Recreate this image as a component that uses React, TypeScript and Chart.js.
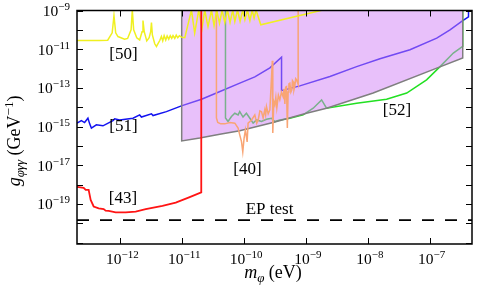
import React, { useEffect, useRef } from 'react';
import { Chart, registerables } from 'chart.js';

Chart.register(...registerables);

const X_MIN = 1.99e-13;
const X_MAX = 4.83e-7;
const Y_MIN = 8.5e-22;
const Y_MAX = 1e-9;

const xTickExps = [-12, -11, -10, -9, -8, -7];
const yTickExps = [-21, -20, -19, -18, -17, -16, -15, -14, -13, -12, -11, -10, -9];
const yLabelExps = [-19, -17, -15, -13, -11, -9];

// [43]
const redX = [1.99e-13, 2.55e-13, 2.75e-13, 3.07e-13, 3.31e-13, 3.7e-13, 4.46e-13, 5.37e-13, 5.78e-13, 6.47e-13, 8.4e-13, 1.22e-12, 1.77e-12, 2.57e-12, 4.79e-12, 7.85e-12, 1.29e-11, 2.03e-11, 2.03e-11];
const redY = [7.6e-19, 6.8e-19, 5.3e-19, 5.3e-19, 1.6e-19, 7.4e-20, 5.9e-20, 5.4e-20, 4.5e-20, 4.4e-20, 3.7e-20, 3.7e-20, 4.0e-20, 5.4e-20, 7.9e-20, 1.17e-19, 2.2e-19, 4.0e-19, 2e-9];

// [51]
const blueX = [1.99e-13, 2.34e-13, 2.64e-13, 2.99e-13, 3.19e-13, 3.4e-13, 4.09e-13, 5.23e-13, 7.59e-13, 8.09e-13, 9.75e-13, 1.6e-12, 2.05e-12, 2.19e-12, 3.18e-12, 3.37e-12, 5.55e-12, 9.7e-12, 2.05e-11, 3.57e-11, 8.52e-11, 1.49e-10, 2.61e-10, 4.03e-10, 4.03e-10, 7.96e-10, 2.44e-9, 6.59e-9, 1.57e-8, 4.8e-8, 1.3e-7, 2.13e-7, 3.42e-7, 4.24e-7, 4.24e-7];
const blueY = [1.5e-15, 2.04e-15, 1.61e-15, 2.7e-15, 1.38e-15, 8.3e-16, 1.23e-15, 1.09e-15, 2.04e-15, 2.5e-15, 2.2e-15, 2.7e-15, 4.0e-15, 3.1e-15, 4.6e-15, 3.7e-15, 5.9e-15, 1.17e-14, 2.6e-14, 5.4e-14, 1.75e-13, 3.7e-13, 1.09e-12, 3.9e-12, 7.2e-14, 1.27e-13, 3.9e-13, 1.26e-12, 3.2e-12, 9.3e-12, 3.7e-11, 1.0e-10, 3.0e-10, 4.7e-10, 2e-9];

// [52]
const greenX = [5.0e-11, 5.0e-11, 5.5e-11, 6.25e-11, 7.08e-11, 8.0e-11, 8.5e-11, 9.6e-11, 1.09e-10, 1.24e-10, 1.4e-10, 1.59e-10, 1.91e-10, 2.3e-10, 2.77e-10, 3.14e-10, 3.78e-10, 5.49e-10, 9.0e-10, 1.31e-9, 1.79e-9, 2.15e-9, 6.59e-9, 2.01e-8, 4.25e-8, 8.9e-8, 1.47e-7, 2.41e-7, 3.42e-7, 3.42e-7];
const greenY = [2e-9, 2.8e-15, 1.82e-15, 3.3e-15, 4.9e-15, 4.0e-15, 5.9e-15, 3.1e-15, 4.9e-15, 2.7e-15, 1.5e-15, 2.2e-15, 1.82e-15, 2.4e-15, 2.7e-15, 1.82e-15, 2.2e-15, 2.7e-15, 4.0e-15, 8.9e-15, 2.4e-14, 8.9e-15, 1.62e-14, 2.6e-14, 5.4e-14, 2.6e-13, 1.26e-12, 6.3e-12, 1.38e-11, 2e-9];

// [40]
const orangeX = [3.57e-11, 3.57e-11, 3.75e-11, 4.2e-11, 4.87e-11, 5.87e-11, 7.08e-11, 8.0e-11, 8.5e-11, 9.08e-11, 9.52e-11, 1.0e-10, 1.05e-10, 1.12e-10, 1.16e-10, 1.32e-10, 1.49e-10, 1.6e-10, 1.69e-10, 1.8e-10, 1.91e-10, 2.03e-10, 2.16e-10, 2.23e-10, 2.3e-10, 2.45e-10, 2.61e-10, 2.86e-10, 2.91e-10, 3.02e-10, 3.14e-10, 3.26e-10, 3.38e-10, 3.58e-10, 3.78e-10, 4.02e-10, 4.28e-10, 4.42e-10, 4.56e-10, 4.7e-10, 4.85e-10, 5.0e-10, 5.15e-10, 5.3e-10, 5.49e-10, 5.7e-10, 5.91e-10, 6.05e-10, 6.21e-10, 6.4e-10, 6.61e-10, 6.82e-10, 7.05e-10, 7.48e-10, 7.48e-10];
const orangeY = [2e-9, 2.8e-15, 1.65e-15, 1.38e-15, 1.38e-15, 1.61e-15, 1.5e-15, 8.3e-16, 3.7e-16, 1.66e-16, 4.9e-17, 2.5e-16, 6.7e-16, 1.6e-16, 1.5e-15, 2.2e-15, 4.0e-15, 1.5e-15, 2.2e-15, 6.5e-15, 5.9e-15, 2.8e-15, 7.3e-15, 4.0e-15, 1.08e-14, 4.5e-15, 7.3e-15, 2.5e-12, 4.7e-16, 2.0e-14, 1.32e-14, 3.3e-14, 9.3e-15, 4.2e-14, 2.4e-14, 6.0e-14, 3.5e-14, 9.0e-14, 1.49e-14, 1.1e-13, 1.17e-13, 8.5e-16, 6.2e-14, 1.6e-13, 1.75e-13, 6.0e-14, 7.9e-14, 2.4e-13, 2.1e-13, 8.0e-14, 1.27e-13, 3.0e-13, 2.6e-13, 1.5e-13, 2e-9];

// [50]
const yellowX = [1.99e-13, 4.62e-13, 6.24e-13, 7.37e-13, 7.88e-13, 8.4e-13, 9.14e-13, 1.17e-12, 1.31e-12, 1.49e-12, 1.56e-12, 1.64e-12, 1.84e-12, 2.05e-12, 2.24e-12, 2.32e-12, 2.43e-12, 2.67e-12, 2.92e-12, 3.09e-12, 3.18e-12, 3.29e-12, 3.59e-12, 3.83e-12, 4.33e-12, 4.6e-12, 4.84e-12, 5.1e-12, 5.41e-12, 5.7e-12, 6.05e-12, 6.4e-12, 6.76e-12, 7.1e-12, 7.57e-12, 8.0e-12, 8.46e-12, 9.0e-12, 9.7e-12, 1.1e-11, 1.41e-11, 1.59e-11, 1.85e-11, 2.09e-11, 2.31e-11, 2.61e-11, 2.97e-11, 3.27e-11, 3.61e-11, 4.0e-11, 4.41e-11, 4.87e-11, 5.38e-11, 5.93e-11, 6.56e-11, 7.08e-11, 7.82e-11, 8.61e-11, 9.52e-11, 1.03e-10, 1.13e-10, 1.24e-10, 1.35e-10, 1.45e-10, 1.56e-10, 1.86e-10, 2.45e-9];
const yellowY = [2.8e-11, 2.8e-11, 2.9e-11, 7.0e-11, 5.4e-10, 7.0e-11, 4.5e-11, 3.3e-11, 3.6e-11, 1.0e-10, 1.05e-9, 1.0e-10, 3.9e-11, 3.0e-11, 8.0e-11, 3.0e-10, 8.0e-11, 2.7e-11, 3.9e-11, 8.0e-11, 2.4e-10, 5.5e-11, 1.9e-11, 1.38e-11, 2.8e-11, 4.5e-11, 2.7e-11, 5.0e-11, 3.0e-11, 4.8e-11, 3.3e-11, 5.0e-11, 3.6e-11, 5.0e-11, 3.6e-11, 5.3e-11, 3.9e-11, 5.0e-11, 4.2e-11, 3.9e-11, 1.05e-9, 6.8e-11, 1.05e-9, 1.23e-10, 1.05e-9, 1.48e-10, 1.05e-9, 1.62e-10, 1.05e-9, 2.2e-10, 1.05e-9, 2.4e-10, 1.05e-9, 2.4e-10, 1.05e-9, 2.7e-10, 1.05e-9, 2.7e-10, 1.05e-9, 3.3e-10, 1.05e-9, 3.0e-10, 1.05e-9, 4.1e-10, 1.05e-9, 1.82e-10, 1.3e-9];

// excluded region (shaded)
const regionX = [9.8e-12, 9.8e-12, 1.92e-11, 4.05e-11, 8.51e-11, 2.94e-10, 1.02e-9, 2.15e-9, 1.22e-8, 1.3e-7, 3.42e-7, 3.42e-7];
const regionY = [1e-9, 1.82e-16, 2.57e-16, 3.98e-16, 6.1e-16, 1.61e-15, 4.9e-15, 8.9e-15, 5.4e-14, 1.05e-12, 3.5e-12, 1e-9];

// EP test
const epX = [X_MIN, X_MAX];
const epY = [1.45e-20, 1.45e-20];

const labels = [
  { text: '[50]', x: 1.12e-12, y: 5.1e-12 },
  { text: '[51]', x: 1.12e-12, y: 1.0e-15 },
  { text: '[43]', x: 1.1e-12, y: 1.95e-19 },
  { text: '[40]', x: 1.13e-10, y: 5.8e-18 },
  { text: '[52]', x: 2.96e-8, y: 6.6e-15 },
  { text: 'EP test', x: 2.58e-10, y: 4.9e-20 },
];

const SERIF = '"Liberation Serif", "Times New Roman", serif';
const pts = (xs: number[], ys: number[]) => xs.map((x, i) => ({ x, y: ys[i] }));

type Run = { t: string; font: string; dy: number };
function runsWidth(ctx: CanvasRenderingContext2D, runs: Run[]) {
  let total = 0;
  for (const r of runs) { ctx.font = r.font; total += ctx.measureText(r.t).width; }
  return total;
}
function drawRunsAt(ctx: CanvasRenderingContext2D, runs: Run[], x0: number, baseY: number) {
  let x = x0;
  ctx.textAlign = 'left';
  ctx.textBaseline = 'alphabetic';
  for (const r of runs) {
    ctx.font = r.font;
    ctx.fillText(r.t, x, baseY + r.dy);
    x += ctx.measureText(r.t).width;
  }
}
const BASE_FONT = '15.5px ' + SERIF;
const EXP_FONT = '11px ' + SERIF;
const powRuns = (e: number): Run[] => [
  { t: '10', font: BASE_FONT, dy: 0 },
  { t: (e < 0 ? '\u2212' : '') + String(Math.abs(e)), font: EXP_FONT, dy: -6 },
];

const decor = {
  id: 'decor',
  afterDraw(chart: any) {
    const { ctx, chartArea: a, scales } = chart;
    const xs = scales.x, ys = scales.y;
    ctx.save();
    ctx.strokeStyle = '#000';
    ctx.lineWidth = 1;
    const L = 6;
    ctx.beginPath();
    for (const e of xTickExps) {
      const px = Math.round(xs.getPixelForValue(Math.pow(10, e))) + 0.5;
      ctx.moveTo(px, a.bottom); ctx.lineTo(px, a.bottom - L);
      ctx.moveTo(px, a.top); ctx.lineTo(px, a.top + L);
    }
    for (const e of yTickExps) {
      const py = Math.round(ys.getPixelForValue(Math.pow(10, e))) + 0.5;
      ctx.moveTo(a.left, py); ctx.lineTo(a.left + L, py);
      ctx.moveTo(a.right, py); ctx.lineTo(a.right - L, py);
    }
    ctx.stroke();
    ctx.lineWidth = 1.5;
    ctx.strokeRect(a.left, a.top, a.right - a.left, a.bottom - a.top);

    ctx.fillStyle = '#000';
    // tick labels
    for (const e of xTickExps) {
      const runs = powRuns(e);
      const w = runsWidth(ctx, runs);
      const px = xs.getPixelForValue(Math.pow(10, e));
      drawRunsAt(ctx, runs, px + 2 - w / 2, a.bottom + 19.5);
    }
    for (const e of yLabelExps) {
      const runs = powRuns(e);
      const w = runsWidth(ctx, runs);
      const py = ys.getPixelForValue(Math.pow(10, e));
      drawRunsAt(ctx, runs, a.left - 7 - w, py + 5.5);
    }

    ctx.font = '17px ' + SERIF;
    ctx.textAlign = 'center';
    ctx.textBaseline = 'middle';
    for (const l of labels) {
      ctx.fillText(l.text, xs.getPixelForValue(l.x), ys.getPixelForValue(l.y));
    }

    // x title
    const xt: Run[] = [
      { t: 'm', font: 'italic 18px ' + SERIF, dy: 0 },
      { t: '\u03C6', font: 'italic 13px ' + SERIF, dy: 4 },
      { t: ' (eV)', font: '18px ' + SERIF, dy: 0 },
    ];
    drawRunsAt(ctx, xt, 273 - runsWidth(ctx, xt) / 2, 278);

    // y title
    ctx.save();
    ctx.translate(20, 141);
    ctx.rotate(-Math.PI / 2);
    const yt: Run[] = [
      { t: 'g', font: 'italic 18px ' + SERIF, dy: 0 },
      { t: '\u03C6\u03B3\u03B3', font: 'italic 13px ' + SERIF, dy: 4 },
      { t: ' (GeV', font: '18px ' + SERIF, dy: 0 },
      { t: '\u22121', font: '13px ' + SERIF, dy: -7 },
      { t: ')', font: '18px ' + SERIF, dy: 0 },
    ];
    drawRunsAt(ctx, yt, -runsWidth(ctx, yt) / 2, 0);
    ctx.restore();
    ctx.restore();
  },
};

export default function App() {
  const ref = useRef<HTMLCanvasElement | null>(null);
  useEffect(() => {
    document.body.style.margin = '0';
    const canvas = ref.current;
    if (!canvas) return;
    const line = (data: any[], color: string, order: number, width = 1.5, extra: any = {}) => ({
      data, borderColor: color, borderWidth: width, pointRadius: 0, showLine: true, fill: false,
      order, clip: 0, tension: 0, ...extra,
    });
    const chart = new Chart(canvas, {
      type: 'scatter',
      data: {
        datasets: [
          line(pts(blueX, blueY), '#1212f0', 10),
          line(pts(greenX, greenY), '#22e022', 9),
          line(pts(regionX, regionY), '#7f7f7f', 8, 1.5, { fill: 'end', backgroundColor: 'rgba(209,130,245,0.5)' }),
          line(pts(orangeX, orangeY), '#f9a574', 7),
          line(pts(yellowX, yellowY), '#f0f020', 6),
          line(pts(redX, redY), '#ff1414', 5, 1.8),
          line(pts(epX, epY), '#000000', 4, 1.6, { borderDash: [12, 11] }),
        ],
      },
      options: {
        animation: false,
        responsive: false,
        devicePixelRatio: 1,
        layout: { padding: { top: 10.5, right: 7, left: 0, bottom: 0 } },
        plugins: { legend: { display: false }, tooltip: { enabled: false } },
        scales: {
          x: {
            type: 'logarithmic', min: X_MIN, max: X_MAX,
            grid: { display: false }, border: { display: false },
            afterBuildTicks: (s: any) => { s.ticks = xTickExps.map((e) => ({ value: Math.pow(10, e) })); },
            afterFit: (s: any) => { s.height = 47; },
            ticks: { display: false },
          },
          y: {
            type: 'logarithmic', min: Y_MIN, max: Y_MAX,
            grid: { display: false }, border: { display: false },
            afterBuildTicks: (s: any) => { s.ticks = yTickExps.map((e) => ({ value: Math.pow(10, e) })); },
            afterFit: (s: any) => { s.width = 77; },
            ticks: { display: false },
          },
        },
      },
      plugins: [decor],
    } as any);
    return () => chart.destroy();
  }, []);
  return (
    <div style={{ width: 479, height: 291 }}>
      <canvas ref={ref} width={479} height={291} />
    </div>
  );
}
